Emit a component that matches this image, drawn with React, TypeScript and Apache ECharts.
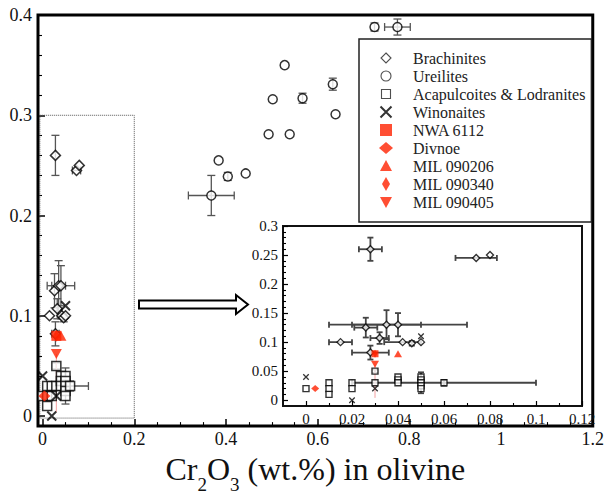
import React, { useEffect, useRef } from 'react';
import * as echarts from 'echarts';

const SERIF = "'Liberation Serif', 'Times New Roman', Times, serif";
const RED = '#ff2200';

// Rows: [x, y, xErr, yErr, yErrLow?]  (Cr2O3 wt.% in olivine, y-axis value)
const BRACHINITES = [
  [0.028, 0.26, 0.005, 0.02],
  [0.074, 0.245, 0.009, 0],
  [0.08, 0.25, 0, 0],
  [0.026, 0.125, 0.005, 0.017],
  [0.035, 0.13, 0.015, 0.025],
  [0.04, 0.13, 0.03, 0.02],
  [0.015, 0.1, 0.005, 0],
  [0.032, 0.107, 0.004, 0.01],
  [0.042, 0.1, 0.008, 0],
  [0.046, 0.098, 0, 0.004],
  [0.05, 0.1, 0, 0],
  [0.028, 0.082, 0.008, 0.012],
];
const UREILITES = [
  [0.368, 0.22, 0.05, 0.02],
  [0.384, 0.255, 0, 0],
  [0.404, 0.239, 0, 0.004],
  [0.443, 0.242, 0, 0],
  [0.493, 0.281, 0, 0],
  [0.539, 0.281, 0, 0],
  [0.502, 0.316, 0, 0],
  [0.567, 0.317, 0, 0.005],
  [0.528, 0.35, 0, 0],
  [0.633, 0.331, 0, 0.006],
  [0.639, 0.301, 0, 0],
  [0.724, 0.388, 0, 0.004],
  [0.774, 0.388, 0.028, 0.008],
];
const ACAPULCOITES_LODRANITES = [
  [0, 0.02, 0, 0],
  [0.01, 0.03, 0, 0],
  [0.01, 0.02, 0, 0],
  [0.01, 0.01, 0, 0],
  [0.02, 0.03, 0, 0],
  [0.02, 0.02, 0, 0],
  [0.03, 0.05, 0, 0.003],
  [0.03, 0.03, 0, 0],
  [0.04, 0.04, 0, 0],
  [0.04, 0.035, 0, 0],
  [0.04, 0.03, 0, 0],
  [0.05, 0.04, 0, 0],
  [0.05, 0.035, 0, 0],
  [0.05, 0.03, 0, 0.018],
  [0.05, 0.025, 0, 0],
  [0.05, 0.02, 0, 0],
  [0.06, 0.03, 0.04, 0.005],
];
const WINONAITES = [
  [0, 0.04],
  [0.02, 0.0],
  [0.03, 0.02],
  [0.05, 0.11],
];
const NWA_6112 = [[0.03, 0.08]];
const DIVNOE = [[0.004, 0.02]];
const MIL_090206 = [[0.04, 0.08]];
const MIL_090340 = [[0.03, 0.08]];
const MIL_090405 = [[0.03, 0.062, 0, 0, 0.058]];

const MAIN_X_TICKS = [0, 0.2, 0.4, 0.6, 0.8, 1, 1.2];
const MAIN_Y_TICKS = [0, 0.1, 0.2, 0.3, 0.4];
const INSET_X_TICKS = [0, 0.02, 0.04, 0.06, 0.08, 0.1, 0.12];
const INSET_Y_TICKS = [0, 0.05, 0.1, 0.15, 0.2, 0.25, 0.3];

const ZOOM_BOX = { x0: -0.006, x1: 0.2, y0: -0.002, y1: 0.3 };
const INSET_LIMIT = { x: 0.12, y: 0.3 };

const fmt = (v: number) => (v < -1e-9 ? '' : String(parseFloat(v.toFixed(3))));

const X_SYMBOL = 'path://M0 0L10 10M10 0L0 10';
const THIN_DIAMOND = 'path://M3 0L6 5L3 10L0 5Z';

const hollow = { color: '#fff', borderColor: '#000', borderWidth: 1.5 };
const redStyle = { color: RED, borderColor: RED, borderWidth: 0 };

function errorSeries(rows: number[][], axis: number, color: string, width: number, cap: number, minPx: number, showCap = true, z = 1) {
  return {
    type: 'custom',
    xAxisIndex: axis,
    yAxisIndex: axis,
    silent: true,
    z,
    data: rows.map((r) => [r[0], r[1], r[2] || 0, r[3] || 0, r[4] != null ? r[4] : r[3] || 0]),
    encode: { x: 0, y: 1 },
    renderItem: (_params: any, api: any) => {
      const x = api.value(0);
      const y = api.value(1);
      const xe = api.value(2);
      const yeHi = api.value(3);
      const yeLo = api.value(4);
      const c = api.coord([x, y]);
      const children: any[] = [];
      const style = { stroke: color, lineWidth: width, fill: null };
      const line = (x1: number, y1: number, x2: number, y2: number) =>
        children.push({ type: 'line', shape: { x1, y1, x2, y2 }, style });
      if (xe > 0) {
        const l = api.coord([x - xe, y])[0];
        const r = api.coord([x + xe, y])[0];
        if ((r - l) / 2 > minPx) {
          line(l, c[1], r, c[1]);
          if (showCap) {
            line(l, c[1] - cap, l, c[1] + cap);
            line(r, c[1] - cap, r, c[1] + cap);
          }
        }
      }
      if (yeHi > 0 || yeLo > 0) {
        const t = api.coord([x, y + yeHi])[1];
        const b = api.coord([x, y - yeLo])[1];
        if ((b - t) / 2 > minPx) {
          line(c[0], t, c[0], b);
          if (showCap) {
            if (yeHi > 0) line(c[0] - cap, t, c[0] + cap, t);
            if (yeLo > 0) line(c[0] - cap, b, c[0] + cap, b);
          }
        }
      }
      return { type: 'group', children };
    },
  };
}

function scatter(name: string, rows: number[][], axis: number, symbol: string, size: any, itemStyle: any, z: number, extra: any = {}) {
  return {
    type: 'scatter',
    name,
    xAxisIndex: axis,
    yAxisIndex: axis,
    symbol,
    symbolSize: size,
    data: rows.map((r) => [r[0], r[1]]),
    itemStyle,
    z,
    silent: true,
    ...extra,
  };
}

const inInset = (rows: number[][]) => rows.filter((r) => r[0] <= INSET_LIMIT.x && r[1] <= INSET_LIMIT.y);

function buildSeries(axis: number) {
  const main = axis === 0;
  const pick = (rows: number[][]) => (main ? rows : inInset(rows));
  const ec = main ? '#555' : '#444';
  const ew = main ? 1.3 : 1.8;
  const cap = main ? 4 : 3;
  const minPx = main ? 3 : 0;
  const s = main
    ? { dia: 10, cir: 9, sq: 9, x: 9, red: 10, rdia: [12, 11], tri: [11, 10], thin: [7, 12], dtri: [11, 10] }
    : { dia: 7, cir: 6, sq: 6, x: 5.5, red: 7, rdia: [8, 7], tri: [8, 7], thin: [5, 8], dtri: [8, 7] };
  const hs = { ...hollow, borderWidth: main ? 1.5 : 1.4 };
  const list: any[] = [
    errorSeries(pick(BRACHINITES), axis, ec, ew, cap, minPx),
    errorSeries(pick(UREILITES), axis, ec, ew, cap, minPx),
    errorSeries(pick(ACAPULCOITES_LODRANITES), axis, ec, ew, cap, minPx),
    errorSeries(pick(MIL_090405), axis, '#f4a0a0', 1, 0, 0, false),
    scatter('Acapulcoites & Lodranites', pick(ACAPULCOITES_LODRANITES), axis, 'rect', s.sq, hs, 2),
    scatter('Ureilites', pick(UREILITES), axis, 'circle', s.cir, hs, 2),
    scatter('Brachinites', pick(BRACHINITES), axis, 'diamond', s.dia, hs, 3,
      main
        ? {
            markArea: {
              silent: true,
              itemStyle: { color: 'rgba(0,0,0,0)', borderColor: '#555', borderWidth: 1, borderType: 'dotted' },
              data: [[{ coord: [ZOOM_BOX.x0, ZOOM_BOX.y1] }, { coord: [ZOOM_BOX.x1, ZOOM_BOX.y0] }]],
            },
          }
        : {}),
    scatter('Winonaites', pick(WINONAITES), axis, X_SYMBOL, s.x, { color: '#000', borderColor: '#000', borderWidth: main ? 2 : 1.3 }, 3),
    scatter('MIL 090340', pick(MIL_090340), axis, THIN_DIAMOND, s.thin, redStyle, 4),
    scatter('NWA 6112', pick(NWA_6112), axis, 'rect', s.red, redStyle, 4),
    scatter('Divnoe', pick(DIVNOE), axis, 'diamond', s.rdia, redStyle, 4),
    scatter('MIL 090206', pick(MIL_090206), axis, 'triangle', s.tri, redStyle, 4),
    scatter('MIL 090405', pick(MIL_090405), axis, 'triangle', s.dtri, redStyle, 4, { symbolRotate: 180 }),
  ];
  return list;
}

const PAD = 'M0 0M14 14';
const LEGEND_ITEMS = [
  { name: 'Brachinites', icon: `path://${PAD}M7 2L12 7L7 12L2 7Z`, itemStyle: { color: '#fff', borderColor: '#222', borderWidth: 1.1 } },
  { name: 'Ureilites', icon: `path://${PAD}M2 7A5 5 0 1 1 12 7A5 5 0 1 1 2 7Z`, itemStyle: { color: '#fff', borderColor: '#222', borderWidth: 1.1 } },
  { name: 'Acapulcoites & Lodranites', icon: `path://${PAD}M2.5 2.5H11.5V11.5H2.5Z`, itemStyle: { color: '#fff', borderColor: '#222', borderWidth: 1.1 } },
  { name: 'Winonaites', icon: `path://${PAD}M1.5 1.5L12.5 12.5M12.5 1.5L1.5 12.5`, itemStyle: { color: '#000', borderColor: '#000', borderWidth: 2 } },
  { name: 'NWA 6112', icon: `path://${PAD}M1 1H13V13H1Z`, itemStyle: redStyle },
  { name: 'Divnoe', icon: `path://${PAD}M0 7L7 1L14 7L7 13Z`, itemStyle: redStyle },
  { name: 'MIL 090206', icon: `path://${PAD}M7 1L13 12L1 12Z`, itemStyle: redStyle },
  { name: 'MIL 090340', icon: `path://${PAD}M7 0L11 7L7 14L3 7Z`, itemStyle: redStyle },
  { name: 'MIL 090405', icon: `path://${PAD}M1 2L13 2L7 13Z`, itemStyle: redStyle },
];

function valueAxis(grid: number, min: number, max: number, step: number, ticks: number[], minorSplit: number, big: boolean, isX: boolean, extra: any = {}) {
  return {
    type: 'value',
    gridIndex: grid,
    min,
    max,
    minInterval: step,
    maxInterval: step,
    splitNumber: Math.round((max - min) / step),
    axisLine: { show: false, onZero: false },
    splitLine: { show: false },
    axisTick: {
      show: true,
      inside: true,
      length: big ? 7 : 5,
      customValues: ticks,
      lineStyle: { color: '#000', width: big ? 1.5 : 1.2 },
    },
    minorTick: {
      show: true,
      splitNumber: minorSplit,
      length: big ? 4 : 3,
      lineStyle: { color: '#000', width: 1.1 },
    },
    axisLabel: {
      customValues: ticks,
      formatter: fmt,
      fontFamily: SERIF,
      fontSize: big ? 18 : 15,
      color: '#111',
      margin: isX ? (big ? 4 : 5) : big ? 6 : 5,
    },
    ...extra,
  };
}

export default function App() {
  const ref = useRef<HTMLDivElement>(null);
  useEffect(() => {
    document.body.style.margin = '0';
    if (!ref.current) return;
    const chart = echarts.init(ref.current, undefined, { renderer: 'svg' });
    const option: any = {
      animation: false,
      backgroundColor: '#fff',
      textStyle: { fontFamily: SERIF },
      grid: [
        { left: 38, top: 15, width: 560, height: 413, show: true, borderColor: '#000', borderWidth: 3, backgroundColor: 'rgba(0,0,0,0)' },
        { left: 283, top: 226, width: 299, height: 180, show: true, borderColor: '#111', borderWidth: 2, backgroundColor: '#fff' },
      ],
      xAxis: [
        valueAxis(0, -0.01, 1.2, 0.2, MAIN_X_TICKS, 4, true, true, {
          name: '{a|Cr}{s|2}{a|O}{s|3}{a| (wt.%) in olivine}',
          nameLocation: 'middle',
          nameGap: 14,
          nameTextStyle: {
            rich: {
              a: { fontFamily: SERIF, fontSize: 32, lineHeight: 50, color: '#111' },
              s: { fontFamily: SERIF, fontSize: 19, lineHeight: 18, verticalAlign: 'bottom', color: '#111' },
            },
          },
        }),
        valueAxis(1, -0.01, 0.12, 0.02, INSET_X_TICKS, 2, false, true),
      ],
      yAxis: [
        valueAxis(0, -0.01, 0.4, 0.1, MAIN_Y_TICKS, 5, true, false),
        valueAxis(1, -0.01, 0.3, 0.05, INSET_Y_TICKS, 5, false, false),
      ],
      legend: {
        left: 359,
        top: 39,
        orient: 'vertical',
        itemWidth: 14,
        itemHeight: 14,
        itemGap: 2,
        padding: [11, 6, 12, 19],
        borderColor: '#222',
        borderWidth: 1.5,
        backgroundColor: '#fff',
        selectedMode: false,
        symbolKeepAspect: true,
        textStyle: { fontFamily: SERIF, fontSize: 16, color: '#222', padding: [0, 0, 0, 15] },
        data: LEGEND_ITEMS,
      },
      graphic: [
        {
          type: 'polygon',
          z: 10,
          shape: {
            points: [
              [139, 300.5],
              [236, 300.5],
              [236, 295],
              [248, 304.5],
              [236, 314],
              [236, 308.5],
              [139, 308.5],
            ],
          },
          style: { fill: '#fff', stroke: '#000', lineWidth: 2 },
        },
      ],
      series: [...buildSeries(0), ...buildSeries(1)],
    };
    chart.setOption(option);
    return () => chart.dispose();
  }, []);
  return <div ref={ref} style={{ width: 607, height: 499 }} />;
}
